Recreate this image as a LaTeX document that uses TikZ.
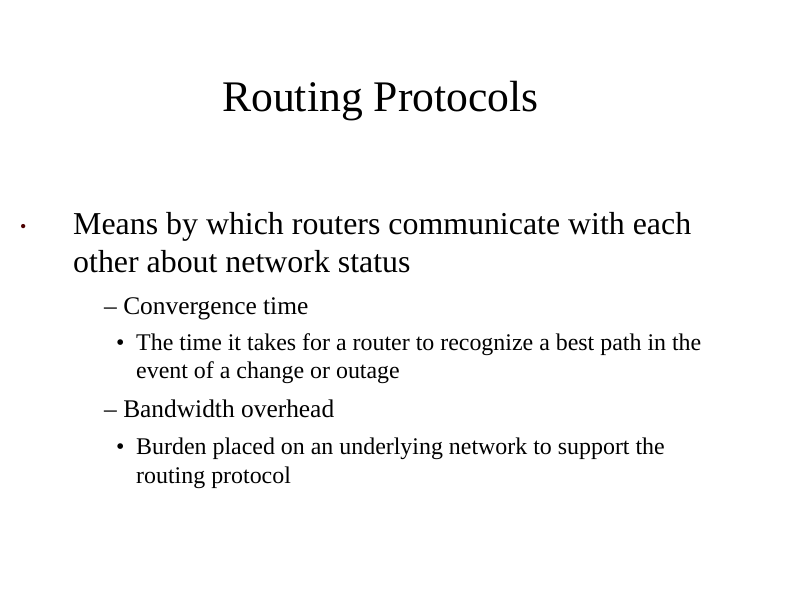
\documentclass[tikz,border=0pt]{standalone}
\usepackage{fontspec}
\setmainfont{Liberation Serif}
\begin{document}
\begin{tikzpicture}[x=1bp,y=-1bp,
  t/.style={anchor=base west,inner sep=0pt},
  fa/.style={font=\fontsize{32}{36}\selectfont},
  fb/.style={font=\fontsize{25.5}{30}\selectfont},
  fc/.style={font=\fontsize{24}{28}\selectfont}]
\useasboundingbox (0,0) rectangle (792,612);
\node[t,font=\fontsize{43.8}{48}\selectfont] (title) at (222,112) {Routing Protocols};
\node[t,font=\fontsize{18}{20}\selectfont,text=black!70!red] (b1) at (20,233) {•};
\node[t,fa] (l1) at (73,235) {Means by which routers communicate with each};
\node[t,fa] (l2) at (73,272) {other about network status};
\node[t,fb] (l3) at (104,314) {– Convergence time};
\node[t,fc] (b2) at (116,350) {•};
\node[t,fc] (l4) at (136,350) {The time it takes for a router to recognize a best path in the};
\node[t,fc] (l5) at (136,378) {event of a change or outage};
\node[t,fb] (l6) at (104,417) {– Bandwidth overhead};
\node[t,fc] (b3) at (116,454) {•};
\node[t,fc] (l7) at (136,454) {Burden placed on an underlying network to support the};
\node[t,fc] (l8) at (136,483) {routing protocol};
\end{tikzpicture}
\end{document}
